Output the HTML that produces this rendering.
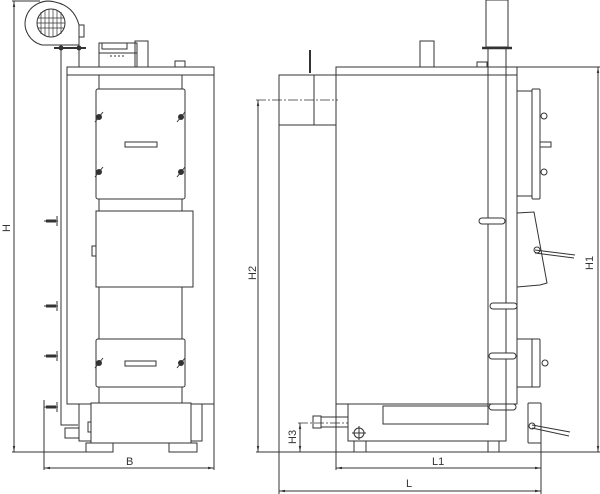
<!DOCTYPE html>
<html><head><style>body{margin:0;background:#fff}svg{display:block}text{font-family:"Liberation Sans",sans-serif;font-size:11px;fill:#333}</style></head>
<body>
<svg width="600" height="494" viewBox="0 0 600 494" xmlns="http://www.w3.org/2000/svg">
<defs><marker id="a" viewBox="0 0 10 10" refX="10" refY="5" markerWidth="6" markerHeight="6" orient="auto-start-reverse"><path d="M0,3L10,5L0,7z" fill="#333"/></marker></defs>
<g fill="none" stroke="#333" stroke-width="1">
<!-- LEFT VIEW -->
<line x1="14" y1="1" x2="14" y2="452" marker-start="url(#a)" marker-end="url(#a)"/>
<line x1="12" y1="452" x2="88" y2="452"/>
<line x1="12" y1="1" x2="40" y2="1"/>
<path d="M79,25 Q74,6 55,2 A22,21 0 0 0 42,45 L79,45 L79,25"/>
<circle cx="51" cy="23" r="14"/>
<g stroke-width="0.7"><line x1="41" y1="12" x2="41" y2="34"/><line x1="45" y1="10" x2="45" y2="36"/><line x1="49" y1="9" x2="49" y2="37"/><line x1="53" y1="9" x2="53" y2="37"/><line x1="57" y1="10" x2="57" y2="36"/><line x1="61" y1="12" x2="61" y2="34"/><line x1="38" y1="18" x2="64" y2="18"/><line x1="37" y1="23" x2="65" y2="23"/><line x1="38" y1="28" x2="64" y2="28"/></g>
<rect x="79" y="25" width="5" height="12"/>
<line x1="54" y1="48" x2="86" y2="48" stroke-width="2"/>
<circle cx="61" cy="48" r="2" fill="#333"/><circle cx="79" cy="48" r="2" fill="#333"/>
<path d="M61,48 L61,425 L78,425"/>
<line x1="79" y1="48" x2="79" y2="67"/>
<rect x="99" y="43" width="38" height="24"/><rect x="135" y="41" width="13" height="26"/><line x1="99" y1="53" x2="137" y2="53"/>
<rect x="102" y="43" width="25" height="6"/><path d="M110,56h2M114,56h2M118,56h2M122,56h2"/>
<rect x="175" y="61" width="10" height="6"/>
<rect x="67" y="67" width="147" height="337"/>
<line x1="67" y1="75" x2="214" y2="75"/>
<line x1="99" y1="75" x2="99" y2="404"/><line x1="182" y1="75" x2="182" y2="404"/>
<rect x="96" y="89" width="89" height="110" rx="2" fill="#fff"/>
<rect x="125" y="142" width="32" height="5"/>
<rect x="96" y="211" width="97" height="76" fill="#fff"/>
<rect x="92" y="246" width="4" height="10"/>
<rect x="96" y="339" width="89" height="48" rx="2" fill="#fff"/>
<rect x="125" y="361" width="31" height="5"/>
<g fill="#333"><circle cx="99" cy="117" r="2.5"/><circle cx="181" cy="117" r="2.5"/><circle cx="99" cy="172" r="2.5"/><circle cx="181" cy="172" r="2.5"/><circle cx="99" cy="363" r="2.5"/><circle cx="181" cy="363" r="2.5"/></g>
<path d="M95,122l8,-10M177,122l8,-10M95,177l8,-10M177,177l8,-10M95,368l8,-10M177,368l8,-10"/>
<rect x="79" y="404" width="123" height="37"/>
<rect x="91" y="403" width="100" height="40" fill="#fff"/>
<rect x="88" y="422" width="3" height="10"/>
<rect x="65" y="428" width="14" height="10"/>
<rect x="86" y="443" width="27" height="9"/><rect x="169" y="443" width="28" height="9"/>
<g stroke-width="3"><path d="M46,221h10M46,306h10M46,356h10M46,407h10"/></g>
<path d="M44,221h14M44,306h14M44,356h14M44,407h14"/>
<path d="M57,216v10M57,301v10M57,351v10M57,402v10"/>
<line x1="44" y1="400" x2="44" y2="470"/><line x1="214" y1="404" x2="214" y2="470"/>
<line x1="44" y1="468" x2="214" y2="468" marker-start="url(#a)" marker-end="url(#a)"/>
<!-- RIGHT VIEW -->
<line x1="256" y1="452" x2="600" y2="452"/>
<rect x="336" y="67" width="181" height="337"/>
<line x1="336" y1="75" x2="517" y2="75"/>
<rect x="279" y="75" width="57" height="50"/>
<line x1="314" y1="75" x2="314" y2="125"/>
<line x1="279" y1="125" x2="279" y2="494"/>
<line x1="256" y1="100" x2="338" y2="100" stroke-dasharray="10,2,2,2" stroke-width="0.7"/>
<line x1="258" y1="100" x2="258" y2="452" marker-start="url(#a)" marker-end="url(#a)"/>
<line x1="310" y1="50" x2="310" y2="73" stroke-width="2"/>
<rect x="420" y="41" width="14" height="26"/>
<rect x="477" y="62" width="10" height="5"/>
<rect x="486" y="0" width="22" height="47"/>
<line x1="488" y1="47" x2="488" y2="425"/><line x1="506" y1="47" x2="506" y2="425"/>
<line x1="482" y1="48" x2="512" y2="48" stroke-width="2.5"/>
<rect x="517" y="91" width="15" height="105"/><rect x="532" y="89" width="8" height="110" rx="1"/>
<circle cx="544" cy="116" r="3"/><circle cx="544" cy="172" r="3"/><rect x="540" y="142" width="11" height="5"/>
<path d="M517,213 L534,212 L547,283 L540,285 L517,287"/>
<line x1="535" y1="250" x2="575" y2="255"/><line x1="535" y1="253" x2="574" y2="258"/><circle cx="537" cy="250" r="3"/>
<rect x="517" y="339" width="15" height="48"/><rect x="532" y="339" width="8" height="48" rx="1"/><circle cx="545" cy="363" r="3"/>
<g><rect x="479" y="218" width="26" height="6" rx="3" fill="#fff"/><rect x="490" y="303" width="27" height="6" rx="3" fill="#fff"/><rect x="489" y="353" width="27" height="6" rx="3" fill="#fff"/><rect x="489" y="404" width="27" height="6" rx="3" fill="#fff"/></g>
<rect x="528" y="403" width="13" height="40" rx="1"/>
<line x1="532" y1="425" x2="570" y2="432"/><line x1="532" y1="428" x2="569" y2="436"/><circle cx="532" cy="426" r="3"/>
<rect x="348" y="404" width="158" height="37"/>
<rect x="383" y="406" width="105" height="18"/>
<circle cx="359" cy="433" r="5"/><path d="M359,426v14M352,433h14"/>
<rect x="313" y="416" width="8" height="12"/><rect x="321" y="417" width="27" height="10"/>
<rect x="354" y="441" width="12" height="11"/><rect x="488" y="441" width="11" height="11"/>
<line x1="298" y1="423" x2="348" y2="423" stroke-dasharray="10,2,2,2" stroke-width="0.7"/>
<line x1="300" y1="423" x2="300" y2="452" marker-start="url(#a)" marker-end="url(#a)"/>
<line x1="517" y1="67" x2="600" y2="67"/>
<line x1="598" y1="67" x2="598" y2="452" marker-start="url(#a)" marker-end="url(#a)"/>
<line x1="336" y1="404" x2="336" y2="470"/><line x1="541" y1="443" x2="541" y2="494"/>
<line x1="336" y1="468" x2="541" y2="468" marker-start="url(#a)" marker-end="url(#a)"/>
<line x1="279" y1="491" x2="541" y2="491" marker-start="url(#a)" marker-end="url(#a)"/>
</g>
<text x="126" y="465">B</text>
<text x="432" y="465">L1</text>
<text x="406" y="487">L</text>
<text transform="translate(10,232) rotate(-90)">H</text>
<text transform="translate(256,280) rotate(-90)">H2</text>
<text transform="translate(296,444) rotate(-90)">H3</text>
<text transform="translate(593,270) rotate(-90)">H1</text>
</svg>
</body></html>
